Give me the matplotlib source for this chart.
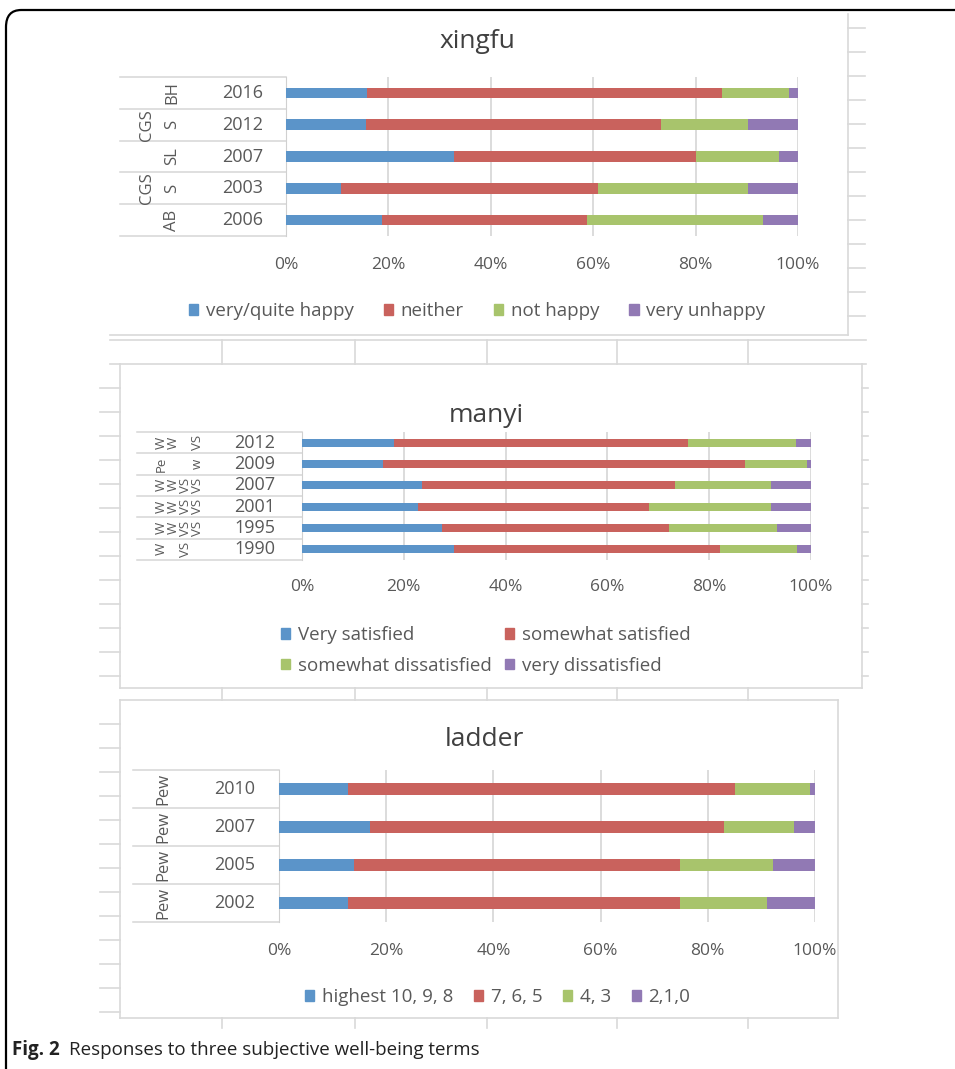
import matplotlib.pyplot as plt
from matplotlib.lines import Line2D
from matplotlib.patches import Rectangle, FancyBboxPatch, Patch
from matplotlib.transforms import blended_transform_factory

plt.rcParams['font.family'] = ['Open Sans', 'DejaVu Sans']

# xingfu
xingfu_years = ['2016', '2012', '2007', '2003', '2006']
xingfu_src = ['BH', 'S', 'SL', 'S', 'AB']
xingfu_grp = ['', 'CGS', '', 'CGS', '']
xingfu_happy = [15.8, 15.6, 32.8, 10.8, 18.8]
xingfu_neither = [69.4, 57.7, 47.3, 50.2, 40.0]
xingfu_not_happy = [13.0, 17.0, 16.1, 29.3, 34.4]
xingfu_very_unhappy = [1.8, 9.7, 3.8, 9.7, 6.8]
xingfu_legend = ['very/quite happy', 'neither', 'not happy', 'very unhappy']

# manyi
manyi_years = ['2012', '2009', '2007', '2001', '1995', '1990']
manyi_col1 = ['W', 'Pe', 'W', 'W', 'W', 'W']
manyi_col2 = ['W', '', 'W', 'W', 'W', '']
manyi_col3 = ['', '', 'VS', 'VS', 'VS', 'VS']
manyi_col4 = ['VS', 'w', 'VS', 'VS', 'VS', '']
manyi_very_sat = [18.0, 15.9, 23.6, 22.8, 27.6, 29.8]
manyi_somewhat_sat = [57.8, 71.1, 49.6, 45.3, 44.6, 52.3]
manyi_somewhat_dis = [21.3, 12.2, 19.0, 24.1, 21.2, 15.1]
manyi_very_dis = [2.9, 0.8, 7.8, 7.8, 6.6, 2.8]
manyi_legend = ['Very satisfied', 'somewhat satisfied',
                'somewhat dissatisfied', 'very dissatisfied']

# ladder
ladder_years = ['2010', '2007', '2005', '2002']
ladder_src = ['Pew', 'Pew', 'Pew', 'Pew']
ladder_high = [12.8, 16.9, 13.9, 12.9]
ladder_mid = [72.3, 66.1, 61.0, 62.0]
ladder_low = [14.0, 13.1, 17.2, 16.2]
ladder_lowest = [0.9, 3.9, 7.9, 8.9]
ladder_legend = ['highest 10, 9, 8', '7, 6, 5', '4, 3', '2,1,0']

ticks = [0, 20, 40, 60, 80, 100]
tick_labels = ['0%', '20%', '40%', '60%', '80%', '100%']
colors = ['#5b94c9', '#c9625d', '#a8c46c', '#9179b4']

W, H = 955, 1069
fig = plt.figure(figsize=(W / 100, H / 100), dpi=100)
TEXT = '#595959'
GRID = '#d9d9d9'


def fx(x):
    return x / W


def fy(y):
    return 1 - y / H


def fline(x0, y0, x1, y1, color=GRID, lw=1.2, z=0):
    fig.add_artist(Line2D([fx(x0), fx(x1)], [fy(y0), fy(y1)],
                          transform=fig.transFigure, color=color, lw=lw, zorder=z))


# background sheet lines and panel boxes
for (x0, y0, x1, y1) in [(110, 14, 848, 335), (120, 364, 862, 688), (120, 700, 838, 1018)]:
    fig.add_artist(Rectangle((fx(x0), fy(y1)), fx(x1 - x0), (y1 - y0) / H,
                             transform=fig.transFigure, facecolor='white',
                             edgecolor='none', zorder=0))
fline(848, 14, 848, 335)
fline(110, 335, 848, 335)
for y in range(28, 330, 24):
    fline(848, y, 865, y)
fline(110, 340, 866, 340)
fline(110, 364, 866, 364)
fline(120, 364, 120, 688)
fline(862, 364, 862, 688)
fline(120, 688, 862, 688)
for y in range(388, 690, 24):
    fline(100, y, 120, y)
    fline(862, y, 868, y)
fline(120, 700, 838, 700)
fline(120, 700, 120, 1018)
fline(838, 700, 838, 1018)
fline(120, 1018, 838, 1018)
for y in range(724, 1018, 24):
    fline(100, y, 120, y)
for x in [222, 355, 487, 617, 748]:
    fline(x, 340, x, 364)
    fline(x, 688, x, 700)
    fline(x, 1018, x, 1028)

# outer border of the figure
fig.add_artist(FancyBboxPatch((fx(6), fy(1200)), fx(1100), 1190 / H,
                              boxstyle='round,pad=0,rounding_size=0.016',
                              transform=fig.transFigure, facecolor='none',
                              edgecolor='black', lw=1.6, zorder=5))


def panel(x0, x1, y0, y1, years, series, table_left, year_x, bar_h, pad):
    ax = fig.add_axes([fx(x0), fy(y1), fx(x1 - x0), (y1 - y0) / H])
    ax.patch.set_alpha(0)
    n = len(years)
    ypos = list(range(n))
    left = [0] * n
    for vals, c in zip(series, colors):
        ax.barh(ypos, vals, left=left, height=bar_h, color=c, zorder=3)
        left = [l + v for l, v in zip(left, vals)]
    ax.set_xlim(0, 100)
    ax.set_ylim(n - 0.5, -0.5)
    ax.set_xticks(ticks)
    ax.set_xticklabels(tick_labels, fontsize=12.5, color=TEXT)
    ax.tick_params(axis='x', length=0, pad=pad)
    ax.set_yticks([])
    ax.grid(axis='x', color=GRID, lw=1.3, zorder=0)
    ax.set_axisbelow(True)
    for s in ['top', 'right', 'bottom']:
        ax.spines[s].set_visible(False)
    ax.spines['left'].set_color('#d0d0d0')
    tr = blended_transform_factory(fig.transFigure, ax.transData)
    for k in range(n + 1):
        ax.add_line(Line2D([fx(table_left), fx(x0)], [k - 0.5, k - 0.5], transform=tr,
                           color='#d6d6d6', lw=1.1, clip_on=False))
    for i, yr in enumerate(years):
        ax.text(fx(year_x), i, yr, transform=tr, ha='center', va='center',
                fontsize=13, color=TEXT)
    return ax, tr


def rot_labels(ax, tr, labels, x, size=12, ls=1.2):
    for i, t in enumerate(labels):
        if t.strip():
            ax.text(fx(x), i, t, transform=tr, rotation=90, ha='center', va='center',
                    fontsize=size, color=TEXT, linespacing=ls)


def legend(labels, order, x, y, loc, ncol, colsp, lsp=0.5):
    handles = [Patch(color=c) for c in colors]
    fig.legend([handles[i] for i in order], [labels[i] for i in order], loc=loc,
               bbox_to_anchor=(fx(x), fy(y)), ncol=ncol, frameon=False, fontsize=13.5,
               handlelength=0.5, handleheight=0.5, handletextpad=0.4, columnspacing=colsp,
               labelspacing=lsp, borderpad=0, borderaxespad=0, labelcolor=TEXT)


# panel 1: xingfu
fig.text(fx(477), fy(42), 'xingfu', ha='center', va='center', fontsize=19, color='#404040')
ax1, tr1 = panel(286, 798, 77, 236, xingfu_years,
                 [xingfu_happy, xingfu_neither, xingfu_not_happy, xingfu_very_unhappy],
                 120, 243, 0.33, 15)
rot_labels(ax1, tr1, xingfu_src, 172)
rot_labels(ax1, tr1, xingfu_grp, 147)
legend(xingfu_legend, [0, 1, 2, 3], 189, 311, 'center left', 4, 1.6)

# panel 2: manyi (the clipped source labels sit side by side in one rotated block per row)
fig.text(fx(486), fy(415), 'manyi', ha='center', va='center', fontsize=19, color='#404040')
ax2, tr2 = panel(302, 811, 432, 560, manyi_years,
                 [manyi_very_sat, manyi_somewhat_sat, manyi_somewhat_dis, manyi_very_dis],
                 137, 255, 0.36, 14)
manyi_blocks = ['\n'.join(r) for r in zip(manyi_col1, manyi_col2, manyi_col3, manyi_col4)]
rot_labels(ax2, tr2, manyi_blocks, 179, 9.5, 0.9)
legend(manyi_legend, [0, 2, 1, 3], 281, 626, 'upper left', 2, 0.7, 0.68)

# panel 3: ladder
fig.text(fx(484), fy(740), 'ladder', ha='center', va='center', fontsize=19, color='#404040')
ax3, tr3 = panel(279, 815, 770, 922, ladder_years,
                 [ladder_high, ladder_mid, ladder_low, ladder_lowest],
                 133, 235, 0.32, 15)
rot_labels(ax3, tr3, ladder_src, 163)
legend(ladder_legend, [0, 1, 2, 3], 305, 997, 'center left', 4, 1.1)

# caption
fig.text(fx(12), fy(1050), 'Fig. 2', ha='left', va='center', fontsize=13.5,
         fontweight='bold', color='#222222')
fig.text(fx(69), fy(1050), 'Responses to three subjective well-being terms', ha='left',
         va='center', fontsize=13.5, color='#222222')

fig.savefig('out.png', dpi=100)
